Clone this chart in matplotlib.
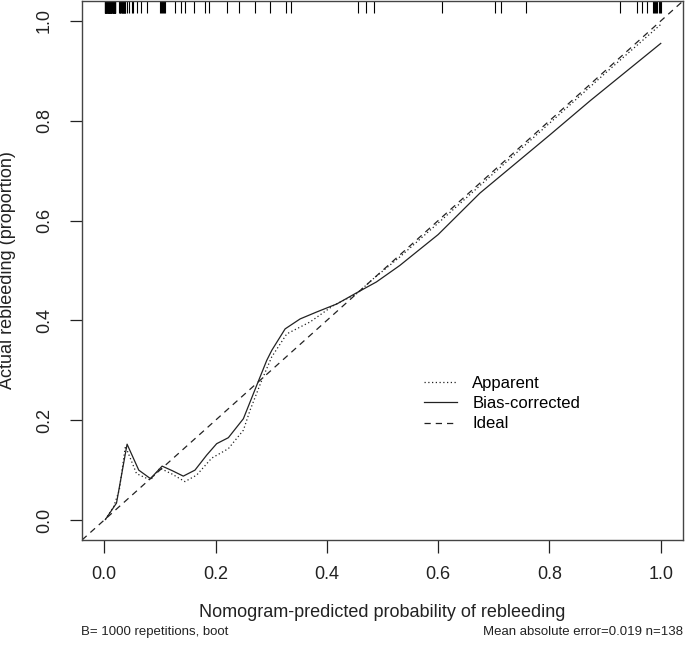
import matplotlib
matplotlib.use("Agg")
import matplotlib.pyplot as plt
from matplotlib import font_manager

# pick an Arial-like font
names = {f.name for f in font_manager.fontManager.ttflist}
plt.rcParams['font.family'] = ['Liberation Sans' if 'Liberation Sans' in names else 'DejaVu Sans', 'DejaVu Sans']

# apparent calibration curve
app_x = [0.002, 0.017, 0.027, 0.038, 0.058, 0.083, 0.100, 0.122, 0.145, 0.166, 0.193, 0.223,
         0.250, 0.262, 0.283, 0.301, 0.328, 0.370, 0.412, 0.453, 0.483, 0.531, 0.600, 0.700,
         0.800, 0.900, 1.000]
app_y = [0.001, 0.027, 0.060, 0.148, 0.093, 0.080, 0.104, 0.092, 0.077, 0.090, 0.124, 0.143,
         0.180, 0.220, 0.280, 0.327, 0.373, 0.397, 0.430, 0.453, 0.483, 0.527, 0.595, 0.695,
         0.795, 0.895, 0.993]

# bias-corrected calibration curve
bc_x = [0.002, 0.022, 0.041, 0.062, 0.083, 0.104, 0.122, 0.142, 0.163, 0.184, 0.202, 0.223,
        0.250, 0.274, 0.292, 0.301, 0.325, 0.352, 0.382, 0.418, 0.453, 0.489, 0.531, 0.561,
        0.600, 0.675, 0.800, 0.873, 1.000]
bc_y = [0.001, 0.034, 0.152, 0.100, 0.083, 0.108, 0.099, 0.088, 0.100, 0.130, 0.153, 0.165,
        0.203, 0.270, 0.320, 0.340, 0.383, 0.403, 0.417, 0.433, 0.455, 0.477, 0.510, 0.537,
        0.572, 0.655, 0.771, 0.840, 0.955]

# predicted probabilities (rug at top)
rug = [0.001, 0.002, 0.003, 0.003, 0.004, 0.005, 0.005, 0.006, 0.007, 0.007, 0.008, 0.009,
       0.009, 0.010, 0.010, 0.011, 0.012, 0.012, 0.013, 0.014, 0.014, 0.015, 0.016, 0.016,
       0.017, 0.018, 0.018, 0.019, 0.020, 0.020, 0.001, 0.004, 0.006, 0.008, 0.011, 0.013,
       0.015, 0.017, 0.019, 0.002, 0.005, 0.009, 0.012, 0.016, 0.019,
       0.027, 0.028, 0.029, 0.030, 0.031, 0.032, 0.033, 0.034, 0.035, 0.036, 0.037, 0.038,
       0.041, 0.045, 0.049, 0.052, 0.059, 0.066, 0.077,
       0.100, 0.102, 0.104, 0.106, 0.108, 0.110,
       0.127, 0.138, 0.145, 0.162, 0.181, 0.188, 0.221, 0.242, 0.271, 0.298, 0.327, 0.336,
       0.456, 0.470, 0.485, 0.607, 0.702, 0.713, 0.758, 0.926, 0.957, 0.966, 0.975,
       0.986, 0.988, 0.990, 0.992, 0.994, 0.996, 0.998, 1.000]

ticks = [0.0, 0.2, 0.4, 0.6, 0.8, 1.0]
tick_labels = ['0.0', '0.2', '0.4', '0.6', '0.8', '1.0']

ink = '#222222'

fig = plt.figure(figsize=(6.85, 6.45), dpi=100)
ax = fig.add_axes([82 / 685, 105 / 645, 601 / 685, 539 / 645])
ax.set_xlim(-0.04, 1.04)
ax.set_ylim(-0.04, 1.04)

ax.plot([-0.04, 1.04], [-0.04, 1.04], color=ink, lw=0.9, linestyle=(0, (5, 4)), label='Ideal')
ax.plot(app_x, app_y, color=ink, lw=0.9, linestyle=(0, (1, 2)), label='Apparent')
ax.plot(bc_x, bc_y, color=ink, lw=0.9, label='Bias-corrected')

ax.vlines(rug, 1.04 - 0.024, 1.04, color='black', lw=0.8)

handles, labels = ax.get_legend_handles_labels()
order = [1, 2, 0]
ax.legend([handles[i] for i in order], [labels[i] for i in order], frameon=False,
          loc='upper left', bbox_to_anchor=(0.558, 0.317), fontsize=12,
          handlelength=2.0, handletextpad=0.9, labelspacing=0.32, borderaxespad=0)

ax.set_xticks(ticks)
ax.set_xticklabels(tick_labels)
ax.set_yticks(ticks)
ax.set_yticklabels(tick_labels, rotation=90, va='center')
ax.tick_params(direction='out', length=9, width=0.9, colors=ink, labelsize=13, pad=10)
ax.tick_params(axis='y', pad=12)
for s in ax.spines.values():
    s.set_color('#444444')
    s.set_linewidth(1.0)

ax.set_xlabel('Nomogram-predicted probability of rebleeding', fontsize=13, color=ink, labelpad=15)
ax.set_ylabel('Actual rebleeding (proportion)', fontsize=13, color=ink, labelpad=14)

fig.text(81 / 685, 1 - 632 / 645, 'B= 1000 repetitions, boot', fontsize=9.5, color=ink, va='center', ha='left')
fig.text(683 / 685, 1 - 632 / 645, 'Mean absolute error=0.019 n=138', fontsize=9.5, color=ink, va='center', ha='right')

fig.savefig('out.png', dpi=100)
